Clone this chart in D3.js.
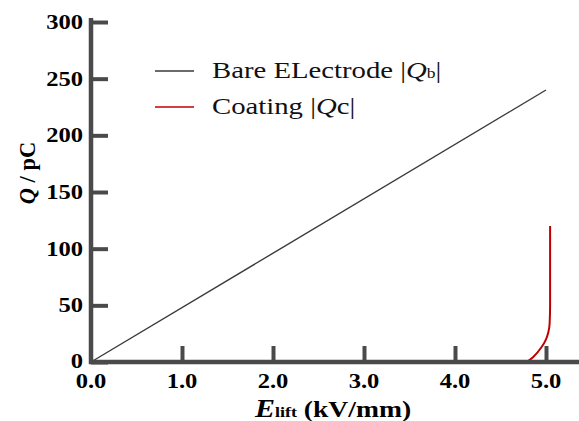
<!DOCTYPE html>
<meta charset="utf-8">
<head>
  <style>
    html, body { margin: 0; padding: 0; background: #fff; }
    svg { display: block; font-family: "Liberation Serif", "Times New Roman", serif; }
  </style>
</head>
<script src="https://cdn.jsdelivr.net/npm/d3@7"></script>
<body>
<script>
  // data
  var xTicks = [0, 1, 2, 3, 4, 5];
  var yTicks = [0, 50, 100, 150, 200, 250, 300];
  var bareE = [0, 5.0];
  var bareQ = [0, 240];
  var coatE = [4.79, 4.86, 4.95, 5.0, 5.025, 5.04, 5.045, 5.045];
  var coatQ = [0, 4.5, 13, 20, 26, 34, 50, 120];
  var legendNames = ["Bare ELectrode", "Coating"];

  var W = 579, H = 421;
  var svg = d3.select("body").append("svg").attr("width", W).attr("height", H);

  var x = d3.scaleLinear().domain([0, 5]).range([91, 546]);
  var y = d3.scaleLinear().domain([0, 300]).range([362, 22]);
  var axisCol = "#4a4a4a";
  var sx = 1.17; // the text in the picture is a bit wide

  // lines
  var line = d3.line().x(function(d){ return x(d[0]); }).y(function(d){ return y(d[1]); });
  svg.append("path")
    .datum(bareE.map(function(e, i){ return [e, bareQ[i]]; }))
    .attr("d", line).attr("fill", "none").attr("stroke", "#3a3a3a").attr("stroke-width", 1.4);
  svg.append("path")
    .datum(coatE.map(function(e, i){ return [e, coatQ[i]]; }))
    .attr("d", line.curve(d3.curveMonotoneY)).attr("fill", "none").attr("stroke", "#c00000").attr("stroke-width", 2);

  // y axis
  var yAxis = d3.axisRight(y).tickValues(yTicks).tickSize(17).tickFormat("");
  var gy = svg.append("g").attr("transform", "translate(" + x(0) + ",0)").call(yAxis);
  gy.select(".domain").remove();
  gy.selectAll(".tick line").attr("stroke", axisCol).attr("stroke-width", 4);
  svg.append("line").attr("x1", x(0)).attr("x2", x(0)).attr("y1", y(300) - 4).attr("y2", y(0) + 2)
    .attr("stroke", axisCol).attr("stroke-width", 4.5);
  svg.append("g").selectAll("text").data(yTicks).join("text")
    .attr("transform", function(d){ return "translate(83," + (y(d) - (d === 0 ? 1 : 0)) + ") scale(" + sx + ",1)"; })
    .attr("dy", "0.34em")
    .attr("text-anchor", "end").attr("font-weight", "bold").attr("font-size", 21)
    .text(function(d){ return d; });

  // x axis
  var xAxis = d3.axisTop(x).tickValues(xTicks.slice(1)).tickSize(16).tickFormat("");
  var gx = svg.append("g").attr("transform", "translate(0," + y(0) + ")").call(xAxis);
  gx.select(".domain").remove();
  gx.selectAll(".tick line").attr("stroke", axisCol).attr("stroke-width", 4);
  svg.append("line").attr("x1", x(0) - 2).attr("x2", W).attr("y1", y(0)).attr("y2", y(0))
    .attr("stroke", axisCol).attr("stroke-width", 4.5);
  svg.append("g").selectAll("text").data(xTicks).join("text")
    .attr("transform", function(d){ return "translate(" + x(d) + ",388) scale(" + sx + ",1)"; })
    .attr("text-anchor", "middle").attr("font-weight", "bold").attr("font-size", 21)
    .text(function(d){ return d.toFixed(1); });

  // axis titles
  var xt = svg.append("text").attr("transform", "translate(333,417) scale(1.2,1)").attr("text-anchor", "middle")
    .attr("font-weight", "bold").attr("font-size", 23);
  xt.append("tspan").attr("font-style", "italic").attr("font-size", 25).text("E");
  xt.append("tspan").attr("font-size", 15).text("lift");
  xt.append("tspan").text(" (kV/mm)");

  var yt = svg.append("text").attr("transform", "translate(35,173) rotate(-90)")
    .attr("text-anchor", "middle").attr("font-weight", "bold").attr("font-size", 22.5);
  yt.append("tspan").attr("font-style", "italic").text("Q");
  yt.append("tspan").text(" / pC");

  // legend
  var legY = [71, 107], legCol = ["#3a3a3a", "#c00000"];
  var leg = svg.append("g");
  leg.selectAll("line").data(legendNames).join("line")
    .attr("x1", 155).attr("x2", 194)
    .attr("y1", function(d, i){ return legY[i]; }).attr("y2", function(d, i){ return legY[i]; })
    .attr("stroke", function(d, i){ return legCol[i]; }).attr("stroke-width", 1.6);
  var subs = ["b", "c"];
  leg.selectAll("text").data(legendNames).join("text")
    .attr("transform", function(d, i){ return "translate(212," + (legY[i] + 7) + ") scale(1.25,1)"; })
    .attr("font-size", 23).attr("fill", "#111")
    .each(function(d, i){
      var t = d3.select(this);
      t.append("tspan").text(d + " |");
      t.append("tspan").attr("font-style", "italic").text("Q");
      if (i === 0) t.append("tspan").attr("font-size", 14).text(subs[i]);
      else t.append("tspan").text(subs[i]);
      t.append("tspan").text("|");
    });
</script>
</body>
